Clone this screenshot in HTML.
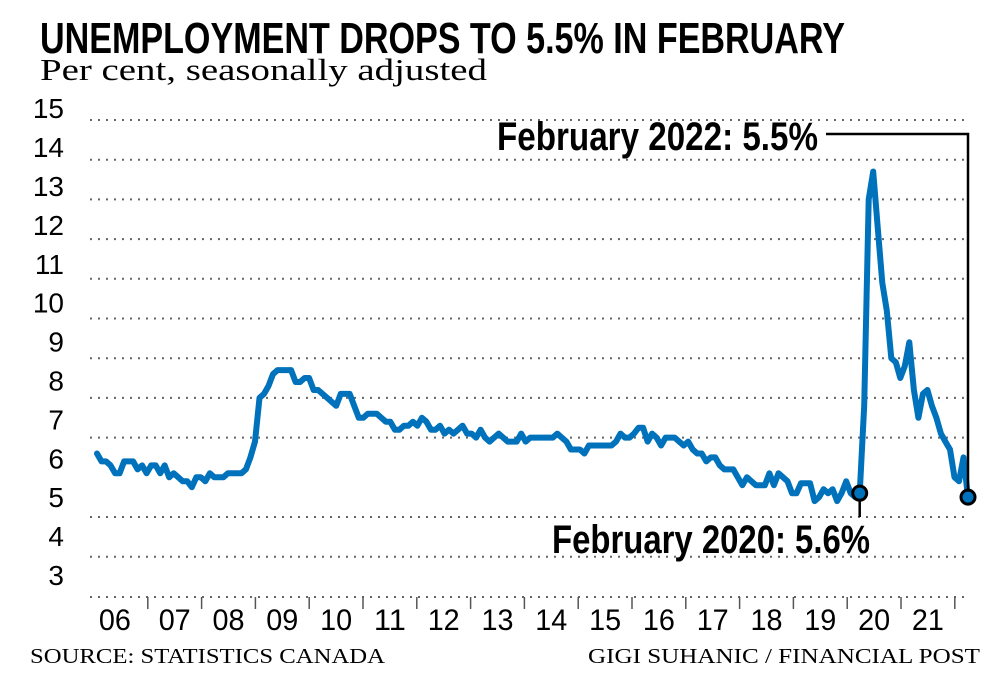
<!DOCTYPE html>
<html><head><meta charset="utf-8"><style>
html,body{margin:0;padding:0;background:#fff;}
svg{display:block;}
</style></head><body>
<svg id="chart" width="1000" height="689" viewBox="0 0 1000 689" xmlns="http://www.w3.org/2000/svg">
<text x="40" y="53" font-family="Liberation Sans, sans-serif" font-weight="bold" font-size="44" textLength="805" lengthAdjust="spacingAndGlyphs">UNEMPLOYMENT DROPS TO 5.5% IN FEBRUARY</text>
<text x="40" y="80" font-family="Liberation Serif, serif" font-size="31" textLength="447" lengthAdjust="spacingAndGlyphs">Per cent, seasonally adjusted</text>
<g id="grid"></g><g id="yaxis"></g><g id="xaxis"></g><g id="series"></g><g id="annot"></g>
<text x="30" y="663" font-family="Liberation Serif, serif" font-size="21" textLength="355" lengthAdjust="spacingAndGlyphs">SOURCE: STATISTICS CANADA</text>
<text x="980" y="663" text-anchor="end" font-family="Liberation Serif, serif" font-size="21" textLength="392" lengthAdjust="spacingAndGlyphs">GIGI SUHANIC / FINANCIAL POST</text>
</svg>
<script>
const years = ["06","07","08","09","10","11","12","13","14","15","16","17","18","19","20","21"];
const yTicks = [3,4,5,6,7,8,9,10,11,12,13,14,15];
const rate2006 = [6.6,6.4,6.4,6.3,6.1,6.1,6.4,6.4,6.4,6.2,6.3,6.1];
const rate2007 = [6.3,6.3,6.1,6.3,6.0,6.1,6.0,5.9,5.9,5.75,6.0,6.0];
const rate2008 = [5.9,6.1,6.0,6.0,6.0,6.1,6.1,6.1,6.1,6.2,6.5,6.9];
const rate2009 = [8.0,8.1,8.3,8.6,8.7,8.7,8.7,8.7,8.4,8.4,8.5,8.5];
const rate2010 = [8.2,8.2,8.1,8.0,7.9,7.8,8.1,8.1,8.1,7.8,7.5,7.5];
const rate2011 = [7.6,7.6,7.6,7.5,7.4,7.4,7.2,7.2,7.3,7.3,7.4,7.3];
const rate2012 = [7.5,7.4,7.2,7.2,7.3,7.1,7.2,7.1,7.2,7.3,7.1,7.1];
const rate2013 = [7.0,7.2,7.0,6.9,7.0,7.1,7.0,6.9,6.9,6.9,7.1,6.9];
const rate2014 = [7.0,7.0,7.0,7.0,7.0,7.0,7.1,7.0,6.9,6.7,6.7,6.7];
const rate2015 = [6.6,6.8,6.8,6.8,6.8,6.8,6.8,6.9,7.1,7.0,7.0,7.1];
const rate2016 = [7.25,7.25,6.9,7.1,7.0,6.8,7.0,7.0,7.0,6.9,6.8,6.9];
const rate2017 = [6.7,6.6,6.6,6.4,6.5,6.5,6.3,6.2,6.2,6.2,6.0,5.8];
const rate2018 = [6.0,5.9,5.8,5.8,5.8,6.1,5.8,6.1,6.0,5.9,5.6,5.6];
const rate2019 = [5.85,5.85,5.85,5.4,5.5,5.7,5.6,5.7,5.4,5.6,5.9,5.6];
const rate2020 = [5.5,5.6,7.8,13.0,13.7,12.3,10.9,10.2,9.0,8.9,8.5,8.8];
const rate2021 = [9.4,8.2,7.5,8.1,8.2,7.8,7.5,7.1,6.9,6.7,6.0,5.9];
const rate2022 = [6.5,5.5];
const rates = [].concat(rate2006,rate2007,rate2008,rate2009,rate2010,rate2011,rate2012,rate2013,rate2014,rate2015,rate2016,rate2017,rate2018,rate2019,rate2020,rate2021,rate2022);
const feb2020Index = 169;
const feb2022Index = rates.length - 1;

const NS = "http://www.w3.org/2000/svg";
const X0 = 97, MONTH = 4.513;
function xScale(m){ return X0 + m*MONTH; }
function yScale(v){ return 517 - (v-5)*39.7; }
function labelBase(v){ return 585 - (v-3)*38.9; }
function tickX(i){ return 94 + i*53.8; }
function mk(tag, attrs, parent){ const e=document.createElementNS(NS,tag); for(const k in attrs) e.setAttribute(k,attrs[k]); parent.appendChild(e); return e; }

const grid=document.getElementById('grid');
yTicks.forEach(v=>{
  if(v===6) return;
  const gy = v===3 ? 597 : yScale(v);
  const l=mk('line',{x1:90,x2:966,y1:gy,y2:gy,stroke:'#666','stroke-width':2,'stroke-dasharray':'2 6'},grid);
  
  
});
const yax=document.getElementById('yaxis');
yTicks.forEach(v=>{
  const t=mk('text',{x:64,y:labelBase(v),'text-anchor':'end','font-family':'Liberation Sans, sans-serif','font-size':28},yax);
  t.textContent=v;
  
  
});
const xax=document.getElementById('xaxis');
for(let i=1;i<=years.length;i++){
  const tk=mk('line',{x1:tickX(i),x2:tickX(i),y1:597,y2:609,stroke:'#555','stroke-width':1.5},xax);
  
  
}
years.forEach((yr,i)=>{
  const cx = (tickX(i)+tickX(i+1))/2 - (i===0?6:0);
  const t=mk('text',{x:cx,y:630,'text-anchor':'middle','font-family':'Liberation Sans, sans-serif','font-size':30,textLength:32,lengthAdjust:'spacingAndGlyphs'},xax);
  t.textContent=yr;
  
  
});
const ser=document.getElementById('series');
const pts=rates.map((v,i)=>xScale(i).toFixed(1)+','+yScale(v).toFixed(1)).join(' ');
const pl=mk('polyline',{points:pts,fill:'none',stroke:'#0072bc','stroke-width':6,'stroke-linejoin':'round','stroke-linecap':'round'},ser);



const an=document.getElementById('annot');
const ax2=xScale(feb2022Index), ay2=yScale(rates[feb2022Index]);
const ax1=xScale(feb2020Index), ay1=yScale(rates[feb2020Index]);
const c1=mk('path',{d:`M826 134 H${ax2} V${ay2-7}`,fill:'none',stroke:'#000','stroke-width':2.5},an);


const c2=mk('line',{x1:ax1,x2:ax1,y1:ay1+7,y2:517,stroke:'#000','stroke-width':2.5},an);


const m1=mk('circle',{cx:ax1,cy:ay1,r:7,fill:'#0072bc',stroke:'#000','stroke-width':3},an);


const m2=mk('circle',{cx:ax2,cy:ay2,r:7,fill:'#0072bc',stroke:'#000','stroke-width':3},an);


const t1=mk('text',{x:497,y:150,'font-family':'Liberation Sans, sans-serif','font-weight':'bold','font-size':40,textLength:321,lengthAdjust:'spacingAndGlyphs'},an);
t1.textContent='February 2022: 5.5%';


const t2=mk('text',{x:552,y:553,'font-family':'Liberation Sans, sans-serif','font-weight':'bold','font-size':40,textLength:318,lengthAdjust:'spacingAndGlyphs'},an);
t2.textContent='February 2020: 5.6%';


</script>
</body></html>
